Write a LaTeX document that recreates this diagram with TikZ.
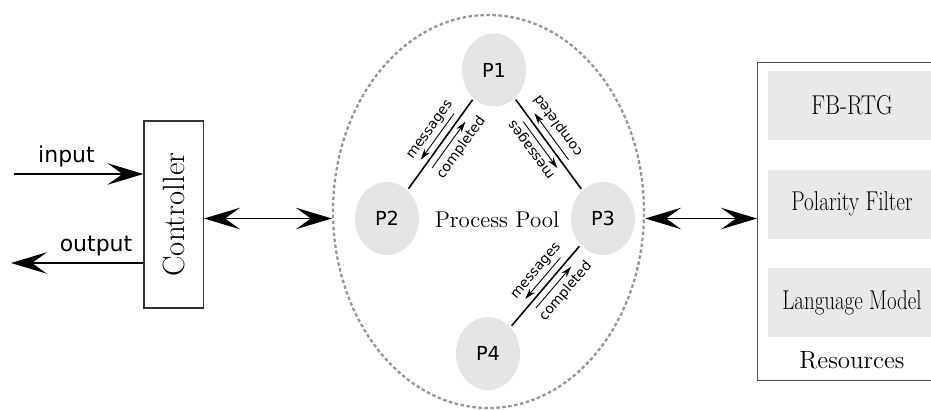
\documentclass[tikz,border=0pt]{standalone}
\usepackage{fontspec}
\usepackage{graphicx}
\usetikzlibrary{arrows.meta,calc,positioning,shapes.geometric}

\newfontfamily\procfont{DejaVu Sans}
\definecolor{procgray}{RGB}{229,229,229}
\definecolor{resgray}{RGB}{233,233,233}
\definecolor{pooldash}{RGB}{150,150,150}

% one channel between two processes: messages go #1 -> #2, completed comes back
\newcommand{\msglink}[2]{%
  \draw[chanline] (#1) -- (#2)
    coordinate[pos=0.2] (#1#2s) coordinate[pos=0.72] (#1#2e);
  \draw[msgarrow] ($(#1#2s)!0.14cm!-90:(#1#2e)$) -- ($(#1#2e)!0.14cm!90:(#1#2s)$);
  \draw[msgarrow] ($(#1#2e)!0.14cm!-90:(#1#2s)$) -- ($(#1#2s)!0.14cm!90:(#1#2e)$);
  \path ($(#2)!0.32cm!90:(#1)$) -- ($(#1)!0.32cm!-90:(#2)$)
    node[msglabel, pos=0.53] (#1#2m) {messages};
  \path ($(#2)!0.38cm!-90:(#1)$) -- ($(#1)!0.38cm!90:(#2)$)
    node[msglabel, pos=0.55] (#1#2c) {completed};
}

\begin{document}
\begin{tikzpicture}[
  >={Stealth[length=0.72cm,width=0.43cm,inset=0.3cm]},
  bigarrow/.style={line width=1.1pt},
  proc/.style={ellipse, fill=procgray, minimum width=1.28cm, minimum height=1.46cm,
    inner sep=0pt, outer sep=0.04cm, font=\procfont\fontsize{11}{13}\selectfont},
  chanline/.style={line width=0.9pt},
  msgarrow/.style={line width=0.5pt, -{Stealth[length=0.22cm,width=0.13cm]}},
  msglabel/.style={sloped, allow upside down, inner sep=0pt,
    font=\procfont\fontsize{7.8}{9}\selectfont},
  resbox/.style={fill=resgray, minimum width=3.36cm, minimum height=1.38cm, inner sep=0pt,
    font=\fontsize{15.5}{18}\selectfont},
  sideword/.style={anchor=base, font=\procfont\fontsize{12.5}{15}\selectfont}
]
\path[use as bounding box, clip] (0,0) rectangle (18.62,8.2);

% controller with input and output
\node[draw=black!80, line width=0.6pt, minimum width=1.19cm, minimum height=3.74cm, inner sep=0pt,
  font=\fontsize{17.5}{20}\selectfont] (ctrl) at (3.475,3.91) {\rotatebox{90}{Controller}};
\coordinate (inStart) at (0.28,4.72);
\coordinate (outEnd) at (0.22,2.94);
\draw[bigarrow,->] (inStart) -- (inStart -| ctrl.west);
\draw[bigarrow,->] (outEnd -| ctrl.west) -- (outEnd);
\node[sideword] (inLabel) at (1.33,4.94) {input};
\node[sideword] (outLabel) at (1.92,3.17) {output};

% process pool
\node[ellipse, draw=pooldash, line width=1.3pt, dash pattern=on 0.07cm off 0.05cm,
  minimum width=6.22cm, minimum height=7.86cm, inner sep=0pt] (pool) at (9.77,3.97) {};
\node[proc] (P1) at (9.88,6.8) {P1};
\node[proc] (P2) at (7.74,3.83) {P2};
\node[proc] (P3) at (12.06,3.83) {P3};
\node[proc] (P4) at (9.76,1.13) {P4};
\node[font=\fontsize{13}{15}\selectfont] (poolLabel) at (9.94,3.8) {Process Pool};

\msglink{P1}{P2}
\msglink{P1}{P3}
\msglink{P3}{P4}

% resources
\node[draw=black!70, line width=0.6pt, minimum width=4.2cm, minimum height=6.36cm,
  anchor=north west] (res) at (15.14,6.96) {};
\node[resbox] (fb) at (17.04,6.09) {\scalebox{0.84}[1]{FB-RTG}};
\node[resbox, below=0.58cm of fb] (pf) {\scalebox{0.78}[1]{Polarity Filter}};
\node[resbox, below=0.58cm of pf] (lm) {\scalebox{0.77}[1]{Language Model}};
\node[font=\fontsize{14.2}{17}\selectfont] (resLabel) at (17.04,1.0) {Resources};

\draw[bigarrow,<->] (ctrl.east |- P2) -- (pool.west |- P2);
\draw[bigarrow,<->] (pool.east |- P3) -- (res.west |- P3);

\end{tikzpicture}
\end{document}
